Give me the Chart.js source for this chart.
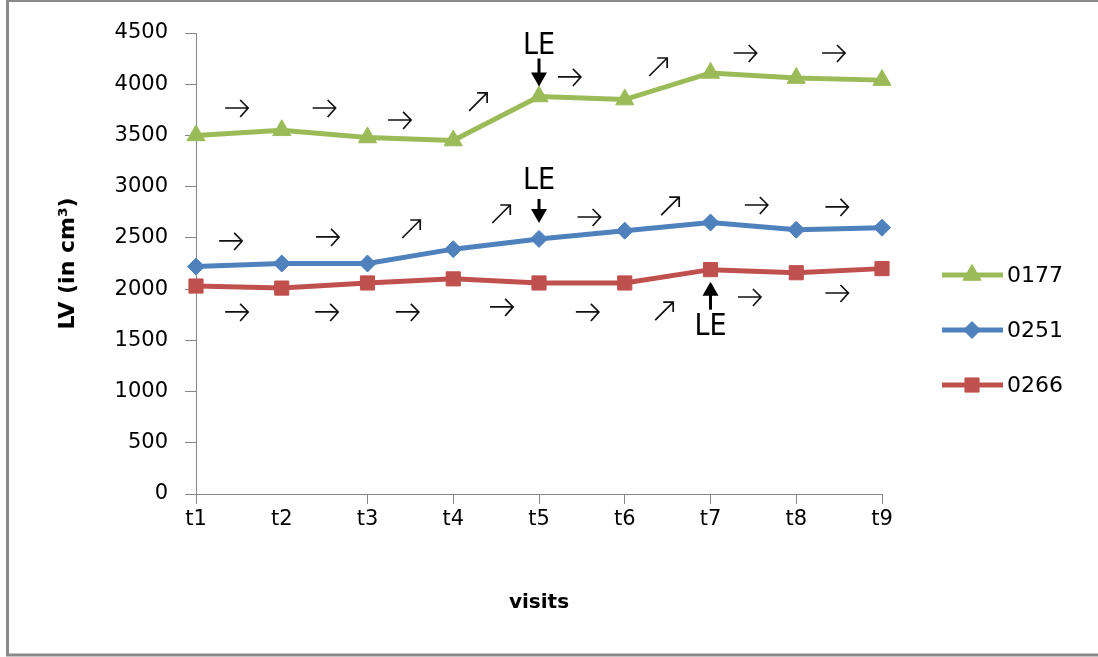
<!DOCTYPE html>
<html>
<head>
<meta charset="utf-8">
<script src="https://cdn.jsdelivr.net/npm/chart.js@4.4.1/dist/chart.umd.min.js"></script>
<style>
  html, body { margin: 0; padding: 0; background: #fff; }
  #wrap { width: 1098px; height: 657px; position: relative; }
</style>
</head>
<body>
<div id="wrap"><canvas id="c" width="1098" height="657"></canvas></div>
<script>
// Visits and left-ventricle volume (cm³) per patient
const visits = ['t1', 't2', 't3', 't4', 't5', 't6', 't7', 't8', 't9'];
const lv0177 = [3500, 3550, 3480, 3450, 3880, 3850, 4110, 4060, 4040];
const lv0251 = [2220, 2250, 2250, 2390, 2490, 2570, 2650, 2580, 2600];
const lv0266 = [2030, 2010, 2060, 2100, 2060, 2060, 2190, 2160, 2200];
const seriesNames = ['0177', '0251', '0266'];

// Trend between consecutive visits
const trend0177 = ['→', '→', '→', '↗', '→', '↗', '→', '→'];
const trend0251 = ['→', '→', '↗', '↗', '→', '↗', '→', '→'];
const trend0266 = ['→', '→', '→', '→', '→', '↗', '→', '→'];

// Visit at which the LE event is marked, per patient
const leVisit = [4, 4, 6];

// Where each trend glyph sits: [category position, volume]
const trendAt0177 = [[0.48, 3768], [1.50, 3768], [2.38, 3651], [3.29, 3827], [4.36, 4071], [5.39, 4168], [6.41, 4305], [7.44, 4305]];
const trendAt0251 = [[0.41, 2470], [1.54, 2509], [2.51, 2587], [3.56, 2733], [4.59, 2704], [5.53, 2811], [6.54, 2821], [7.48, 2802]];
const trendAt0266 = [[0.48, 1777], [1.53, 1777], [2.47, 1777], [3.57, 1826], [4.57, 1777], [5.46, 1786], [6.46, 1923], [7.48, 1962]];

// LE arrow geometry relative to the marked point (px): direction, gap, length, text offset
const leArrow = [
  { dir: -1, gap: 10, len: 28, text: 50 },
  { dir: -1, gap: 16, len: 24, text: 58 },
  { dir: 1, gap: 12, len: 28, text: 58 }
];

const AXIS = '#868686';
const FONT = "'DejaVu Sans', 'Liberation Sans', sans-serif";
const NARROW = "'Liberation Sans Narrow', 'DejaVu Sans Condensed', 'Liberation Sans', sans-serif";

const frame = {
  id: 'frame',
  beforeDraw(chart) {
    const ctx = chart.ctx;
    ctx.save();
    ctx.fillStyle = '#fff';
    ctx.fillRect(0, 0, chart.width, chart.height);
    ctx.strokeStyle = '#898989';
    ctx.lineWidth = 3;
    ctx.beginPath();
    ctx.moveTo(chart.width + 2, 0.5);
    ctx.lineTo(7.5, 0.5);
    ctx.lineTo(7.5, 655);
    ctx.lineTo(chart.width + 2, 655);
    ctx.stroke();
    ctx.restore();
  }
};

// Thin open-headed trend arrow, horizontal or rising
function trendArrow(ctx, kind, x, y) {
  ctx.beginPath();
  if (kind === '↗') {
    const h = 9;
    ctx.moveTo(x - h, y + h);
    ctx.lineTo(x + h, y - h);
    ctx.moveTo(x + h - 10, y - h);
    ctx.lineTo(x + h, y - h);
    ctx.lineTo(x + h, y - h + 10);
  } else {
    ctx.moveTo(x - 12, y);
    ctx.lineTo(x + 11, y);
    ctx.moveTo(x + 3, y - 8);
    ctx.lineTo(x + 11, y);
    ctx.lineTo(x + 3, y + 9);
  }
  ctx.stroke();
}

const annotations = {
  id: 'annotations',
  afterDatasetsDraw(chart) {
    const ctx = chart.ctx;
    const xs = chart.scales.x, ys = chart.scales.y;
    const trends = [trend0177, trend0251, trend0266];
    const places = [trendAt0177, trendAt0251, trendAt0266];
    ctx.save();
    ctx.strokeStyle = '#111';
    ctx.lineWidth = 1.7;
    ctx.lineCap = 'butt';
    trends.forEach((marks, s) => {
      marks.forEach((m, i) => {
        const p = places[s][i];
        trendArrow(ctx, m, xs.getPixelForValue(p[0]), ys.getPixelForValue(p[1]));
      });
    });
    // LE markers
    ctx.font = '30px ' + NARROW;
    ctx.textAlign = 'center';
    ctx.textBaseline = 'middle';
    leVisit.forEach((idx, s) => {
      const pt = chart.getDatasetMeta(s).data[idx];
      const g = leArrow[s];
      const x = pt.x;
      const tip = pt.y + g.dir * g.gap;
      const tail = pt.y + g.dir * (g.gap + g.len);
      const head = 14;
      ctx.strokeStyle = '#000';
      ctx.fillStyle = '#000';
      ctx.lineWidth = 3;
      ctx.beginPath();
      ctx.moveTo(x, tail);
      ctx.lineTo(x, tip + g.dir * (head - 2));
      ctx.stroke();
      ctx.beginPath();
      ctx.moveTo(x, tip);
      ctx.lineTo(x - 8, tip + g.dir * head);
      ctx.lineTo(x + 8, tip + g.dir * head);
      ctx.closePath();
      ctx.fill();
      ctx.fillText('LE', x, pt.y + g.dir * g.text);
    });
    ctx.restore();
  }
};

const sideLegend = {
  id: 'sideLegend',
  afterDraw(chart) {
    const ctx = chart.ctx;
    ctx.save();
    chart.data.datasets.forEach((ds, i) => {
      const y = 275 + i * 55;
      ctx.strokeStyle = ds.borderColor;
      ctx.lineWidth = ds.borderWidth;
      ctx.beginPath();
      ctx.moveTo(942, y);
      ctx.lineTo(1003, y);
      ctx.stroke();
      ctx.fillStyle = ds.pointBackgroundColor;
      ctx.strokeStyle = ds.borderColor;
      ctx.lineWidth = 1;
      Chart.helpers.drawPoint(ctx, { pointStyle: ds.pointStyle, radius: ds.pointRadius, rotation: 0, borderWidth: 1 }, 972, y);
      ctx.fillStyle = '#000';
      ctx.font = '22px ' + FONT;
      ctx.textAlign = 'left';
      ctx.textBaseline = 'middle';
      ctx.fillText(ds.label, 1007, y + 1);
    });
    ctx.restore();
  }
};

function series(label, data, color, style, radius) {
  return {
    label, data,
    borderColor: color,
    backgroundColor: color,
    pointBackgroundColor: color,
    pointBorderColor: color,
    borderWidth: 5,
    pointStyle: style,
    pointRadius: radius,
    pointBorderWidth: 1,
    tension: 0,
    fill: false
  };
}

new Chart(document.getElementById('c'), {
  type: 'line',
  data: {
    labels: visits,
    datasets: [
      series(seriesNames[0], lv0177, '#9BBB59', 'triangle', 10.5),
      series(seriesNames[1], lv0251, '#4F81BD', 'rectRot', 8.5),
      series(seriesNames[2], lv0266, '#C0504D', 'rect', 10)
    ]
  },
  options: {
    responsive: false,
    animation: false,
    layout: { padding: { left: 55, right: 216, top: 33, bottom: 38 } },
    plugins: { legend: { display: false }, tooltip: { enabled: false } },
    scales: {
      x: {
        offset: false,
        grid: {
          drawOnChartArea: false,
          tickLength: 10,
          color: AXIS,
          tickColor: c => (c.index === 1 ? 'rgba(0,0,0,0)' : AXIS)
        },
        border: { color: AXIS, width: 1 },
        ticks: { color: '#000', font: { family: FONT, size: 21 }, padding: 3, maxRotation: 0, autoSkip: false },
        title: { display: true, text: 'visits', color: '#000', font: { family: FONT, size: 20, weight: 'bold' }, padding: { top: 0, bottom: 4 } },
        afterFit: s => { s.height = 125; }
      },
      y: {
        min: 0,
        max: 4500,
        grid: { drawOnChartArea: false, tickLength: 11, color: AXIS, tickColor: AXIS },
        border: { color: AXIS, width: 1 },
        ticks: { stepSize: 500, color: '#000', font: { family: FONT, size: 21 }, padding: 17, callback: v => String(v) },
        title: { display: true, text: 'LV (in cm³)', color: '#000', font: { family: FONT, size: 22, weight: 'bold' }, padding: { top: 0, bottom: 0 } },
        afterFit: s => { s.width = 141; }
      }
    }
  },
  plugins: [frame, annotations, sideLegend]
});
</script>
</body>
</html>
